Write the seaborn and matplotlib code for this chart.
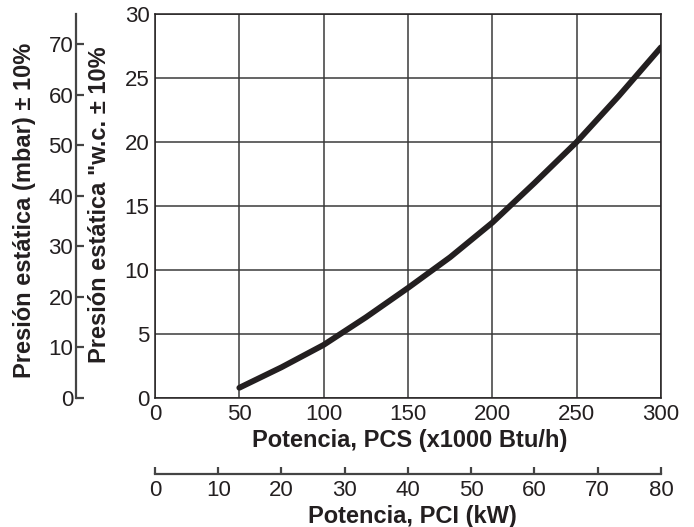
import matplotlib
matplotlib.use("Agg")
import matplotlib.pyplot as plt
import seaborn as sns

# --- data ---
pcs_kbtu = [50, 75, 100, 125, 150, 175, 200, 225, 250, 275, 300]
presion_wc = [0.8, 2.4, 4.15, 6.3, 8.6, 11.0, 13.7, 16.8, 20.0, 23.6, 27.4]

wc_ticks = [0, 5, 10, 15, 20, 25, 30]
pcs_ticks = [0, 50, 100, 150, 200, 250, 300]
mbar_ticks = [0, 10, 20, 30, 40, 50, 60, 70]
kw_ticks = [0, 10, 20, 30, 40, 50, 60, 70, 80]

INK = "#231f20"
FS_TICK = 16
FS_LAB = 17

sns.set_theme(style="white")
plt.rcParams["font.family"] = ["Liberation Sans", "DejaVu Sans"]

W, H = 694, 527
fig = plt.figure(figsize=(W / 100, H / 100), dpi=100)
left, right, top, bottom = 155, 661, 14, 398
ax = fig.add_axes([left / W, 1 - bottom / H, (right - left) / W, (bottom - top) / H])

sns.lineplot(x=pcs_kbtu, y=presion_wc, ax=ax, color=INK, linewidth=4.2,
             solid_capstyle="round", zorder=3)

ax.set_xlim(0, 300)
ax.set_ylim(0, 30)
ax.set_xticks(pcs_ticks)
ax.set_yticks(wc_ticks)
ax.grid(True, color="#3a3a3a", linewidth=1.1)
ax.tick_params(length=0, labelsize=FS_TICK, labelcolor=INK, pad=4)
for s in ax.spines.values():
    s.set_color(INK)
    s.set_linewidth(1.1)
ax.set_xlabel("")
ax.set_ylabel("")

# left secondary axis: mbar
ax2 = ax.twinx()
ax2.set_ylim(0, 76)
ax2.set_yticks(mbar_ticks)
ax2.yaxis.set_ticks_position("left")
ax2.yaxis.set_label_position("left")
ax2.spines["left"].set_position(("axes", -0.156))
ax2.spines["left"].set_visible(True)
ax2.spines["left"].set_color("#444444")
ax2.spines["left"].set_linewidth(1.6)
for k in ["right", "top", "bottom"]:
    ax2.spines[k].set_visible(False)
ax2.tick_params(axis="y", direction="in", length=6, width=1.6, color="#444444",
                labelsize=FS_TICK, labelcolor=INK, pad=2)
ax2.grid(False)

# bottom secondary axis: kW
ax3 = ax.twiny()
ax3.set_xlim(0, 80)
ax3.set_xticks(kw_ticks)
ax3.xaxis.set_ticks_position("bottom")
ax3.xaxis.set_label_position("bottom")
ax3.spines["bottom"].set_position(("axes", -0.198))
ax3.spines["bottom"].set_visible(True)
ax3.spines["bottom"].set_color("#444444")
ax3.spines["bottom"].set_linewidth(1.6)
for k in ["right", "top", "left"]:
    ax3.spines[k].set_visible(False)
ax3.tick_params(axis="x", direction="in", length=5, width=1.6, color="#444444",
                labelsize=FS_TICK, labelcolor=INK, pad=4)
ax3.grid(False)

# axis titles
fig.text(410 / W, 1 - 441 / H, "Potencia, PCS (x1000 Btu/h)", ha="center", va="center",
         fontsize=FS_LAB, fontweight="bold", color=INK)
fig.text(412 / W, 1 - 516 / H, "Potencia, PCI (kW)", ha="center", va="center",
         fontsize=FS_LAB, fontweight="bold", color=INK)
fig.text(100 / W, 1 - 205 / H, 'Presión estática "w.c. ± 10%', ha="center", va="center",
         rotation=90, fontsize=FS_LAB, fontweight="bold", color=INK)
fig.text(25 / W, 1 - 210 / H, "Presión estática (mbar) ± 10%", ha="center", va="center",
         rotation=90, fontsize=FS_LAB, fontweight="bold", color=INK)

fig.savefig("out.png", dpi=100)
